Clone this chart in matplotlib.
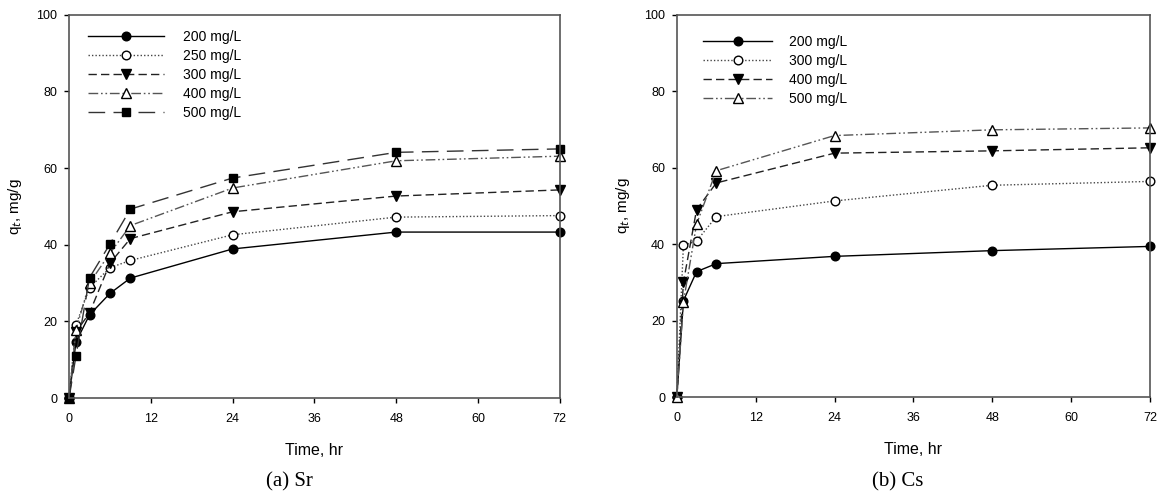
import matplotlib
matplotlib.use("Agg")
import matplotlib.pyplot as plt

plt.rcParams['font.family'] = ['Liberation Sans', 'DejaVu Sans']

# ---- data: (a) Sr ----
sr_time = [0, 1, 3, 6, 9, 24, 48, 72]
sr_labels = ['200 mg/L', '250 mg/L', '300 mg/L', '400 mg/L', '500 mg/L']
sr_200 = [0, 14.6, 21.7, 27.3, 31.3, 38.9, 43.3, 43.3]
sr_250 = [0, 19.0, 28.8, 34.0, 35.9, 42.6, 47.2, 47.6]
sr_300 = [0, 17.2, 22.2, 35.2, 41.6, 48.6, 52.7, 54.3]
sr_400 = [0, 17.7, 30.0, 37.8, 45.0, 54.8, 61.9, 63.1]
sr_500 = [0, 10.9, 31.4, 40.2, 49.3, 57.4, 64.1, 65.0]

# ---- data: (b) Cs ----
cs_time = [0, 1, 3, 6, 24, 48, 72]
cs_labels = ['200 mg/L', '300 mg/L', '400 mg/L', '500 mg/L']
cs_200 = [0, 25.2, 32.8, 34.9, 36.8, 38.3, 39.4]
cs_300 = [0, 39.7, 40.8, 47.2, 51.3, 55.4, 56.4]
cs_400 = [0, 30.0, 49.0, 56.0, 63.8, 64.4, 65.2]
cs_500 = [0, 24.8, 45.2, 59.2, 68.4, 69.9, 70.4]

xticks = [0, 12, 24, 36, 48, 60, 72]
yticks = [0, 20, 40, 60, 80, 100]

styles = {
    'solid':   dict(ls='-', marker='o', mfc='black', color='black'),
    'dotted':  dict(ls=(0, (1, 1.5)), marker='o', mfc='white', color='#444444'),
    'dashed':  dict(ls=(0, (6, 3)), marker='v', mfc='black', color='#222222'),
    'dashdd':  dict(ls=(0, (7, 2, 1.2, 2, 1.2, 2)), marker='^', mfc='white', color='#555555'),
    'long':    dict(ls=(0, (12, 6)), marker='s', mfc='black', color='#333333'),
}

fig = plt.figure(figsize=(11.71, 4.92), dpi=100)
ax1 = fig.add_axes([0.059, 0.191, 0.419, 0.779])
ax2 = fig.add_axes([0.578, 0.193, 0.404, 0.777])

def draw(ax, t, series, labels, keys, legend_anchor, hlen, tpad):
    for y, lab, k in zip(series, labels, keys):
        st = styles[k]
        ms = 6.2 if st['marker'] in ('o', 's') else 6.6
        ax.plot(t, y, linestyle=st['ls'], color=st['color'], lw=1.0,
                marker=st['marker'], markersize=ms, markerfacecolor=st['mfc'],
                markeredgecolor='black', markeredgewidth=1.0, label=lab)
    ax.set_xlim(0, 72)
    ax.set_ylim(0, 100)
    ax.set_xticks(xticks)
    ax.set_yticks(yticks)
    ax.tick_params(direction='out', length=3.5, width=1, labelsize=9, colors='black')
    ax.tick_params(axis='x', pad=7)
    ax.tick_params(axis='y', pad=5)
    for s in ax.spines.values():
        s.set_linewidth(1.2)
        s.set_color('#555555')
    ax.set_xlabel('Time, hr', fontsize=11.5, labelpad=13)
    ax.set_ylabel(r'q$_t$, mg/g', fontsize=11, labelpad=9)
    ax.legend(loc='upper left', bbox_to_anchor=legend_anchor, frameon=False,
              fontsize=10, handlelength=hlen, handletextpad=tpad, labelspacing=0.37,
              borderaxespad=0, borderpad=0)

draw(ax1, sr_time, [sr_200, sr_250, sr_300, sr_400, sr_500], sr_labels,
     ['solid', 'dotted', 'dashed', 'dashdd', 'long'], (0.0387, 0.961), 5.5, 1.37)
draw(ax2, cs_time, [cs_200, cs_300, cs_400, cs_500], cs_labels,
     ['solid', 'dotted', 'dashed', 'dashdd'], (0.055, 0.948), 5.0, 1.22)
for ln in ax1.lines + ax2.lines:
    ln.set_clip_on(False)

fig.text(266 / 1171, 0.002, '(a) Sr', family=['Liberation Serif'], fontsize=15, ha='left', va='bottom')
fig.text(872 / 1171, 0.002, '(b) Cs', family=['Liberation Serif'], fontsize=15, ha='left', va='bottom')

fig.savefig('out.png', dpi=100)
